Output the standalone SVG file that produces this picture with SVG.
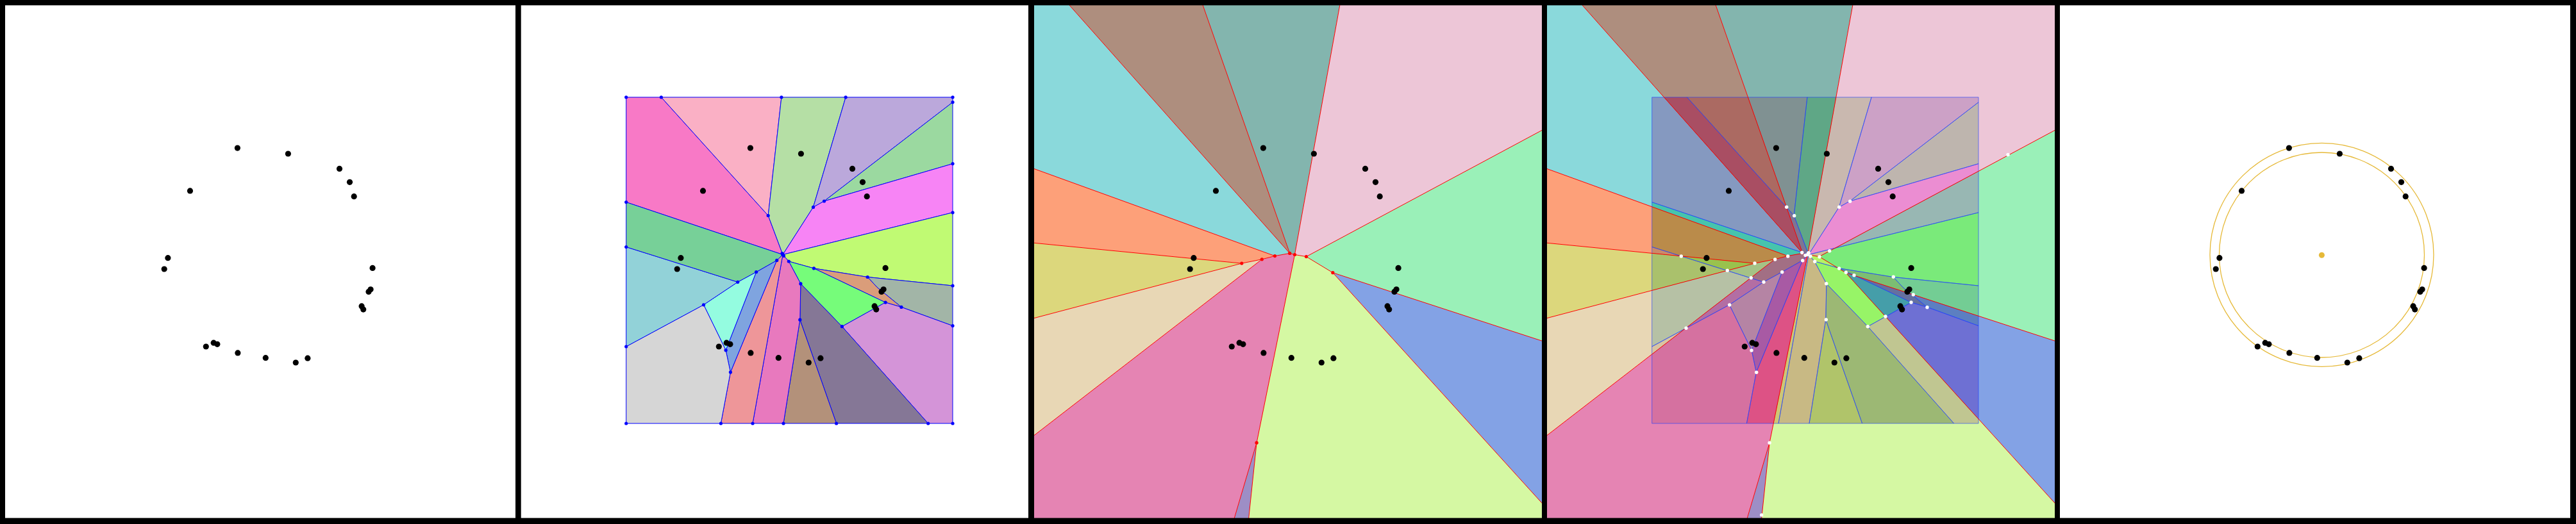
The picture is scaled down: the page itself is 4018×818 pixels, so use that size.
<svg xmlns="http://www.w3.org/2000/svg" xmlns:xlink="http://www.w3.org/1999/xlink" width="4018" height="818" viewBox="0 0 4018 818">
<style>
.site{fill:#000}
.red{stroke:#ff0000;stroke-width:1;fill:none}
.bdot{fill:#0000ff}
.rdot{fill:#ff0000}
.wdot{fill:#ffffff}
.gold{fill:none;stroke:#e6b938;stroke-width:1.3}
</style>
<defs>
<clipPath id="pclip"><rect x="5" y="0" width="806" height="818"/></clipPath>
<g id="sites">
<circle class="site" cx="370.4" cy="231.1" r="4.6"/>
<circle class="site" cx="449.4" cy="240.0" r="4.6"/>
<circle class="site" cx="529.5" cy="263.4" r="4.6"/>
<circle class="site" cx="545.5" cy="284.3" r="4.6"/>
<circle class="site" cx="552.2" cy="306.7" r="4.6"/>
<circle class="site" cx="296.5" cy="297.9" r="4.6"/>
<circle class="site" cx="261.9" cy="402.7" r="4.6"/>
<circle class="site" cx="256.2" cy="420.0" r="4.6"/>
<circle class="site" cx="581.1" cy="418.4" r="4.6"/>
<circle class="site" cx="578.1" cy="451.8" r="4.6"/>
<circle class="site" cx="575.0" cy="455.4" r="4.6"/>
<circle class="site" cx="564.1" cy="477.9" r="4.6"/>
<circle class="site" cx="566.7" cy="483.1" r="4.6"/>
<circle class="site" cx="321.3" cy="541.0" r="4.6"/>
<circle class="site" cx="333.2" cy="535.2" r="4.6"/>
<circle class="site" cx="338.9" cy="537.3" r="4.6"/>
<circle class="site" cx="370.9" cy="550.9" r="4.6"/>
<circle class="site" cx="414.3" cy="558.7" r="4.6"/>
<circle class="site" cx="461.3" cy="566.0" r="4.6"/>
<circle class="site" cx="479.9" cy="559.2" r="4.6"/>
</g>
<polygon id="c6" points="176.7,151.8 231.4,151.8 398.2,336.5 421,397.5 176.7,315.6"/>
<polygon id="c1" points="231.4,151.8 418.9,151.8 398.2,336.5"/>
<polygon id="c2" points="418.9,151.8 519.1,151.8 468.5,323.4 421,397.5 398.2,336.5"/>
<polygon id="c3" points="519.1,151.8 686,151.8 686,159.6 485.5,314 468.5,323.4"/>
<polygon id="c4" points="686,159.6 686,255.6 485.5,314"/>
<polygon id="c5" points="485.5,314 686,255.6 686,331.8 421,397.5 468.5,323.4"/>
<polygon id="c9" points="421,397.5 686,331.8 686,446 553.2,432.5 469.5,418.9 430.3,408"/>
<polygon id="c10" points="553.2,432.5 686,446 686,508.6 605.9,479.4 568.2,448.6"/>
<polygon id="c11" points="469.5,418.9 553.2,432.5 568.2,448.6 605.9,479.4 581.1,472.1"/>
<polygon id="c12" points="430.3,408 469.5,418.9 581.1,472.1 513.4,509.7 448.9,442.9"/>
<polygon id="c13" points="581.1,472.1 605.9,479.4 686,508.6 686,661 647.7,661 513.4,509.7"/>
<polygon id="c20" points="448.9,442.9 513.4,509.7 647.7,661 504.6,661 447.8,499.2"/>
<polygon id="c19" points="447.8,499.2 504.6,661 422,661"/>
<polygon id="c18" points="421,397.5 430.3,408 448.9,442.9 447.8,499.2 422,661 374,661"/>
<polygon id="c17" points="411.7,406.4 421,397.5 374,661 324.4,661 339.4,581.1"/>
<polygon id="c16" points="379.6,424.6 411.7,406.4 339.4,581.1 332.1,546.7"/>
<polygon id="c15" points="350.7,440.3 379.6,424.6 332.1,546.7 297.5,475.8"/>
<polygon id="c14" points="297.5,475.8 332.1,546.7 339.4,581.1 324.4,661 176.7,661 176.7,541"/>
<polygon id="c8" points="176.7,385.5 350.7,440.3 297.5,475.8 176.7,541"/>
<polygon id="c7" points="176.7,315.6 421,397.5 411.7,406.4 379.6,424.6 350.7,440.3 176.7,385.5"/>
<g id="vor3cells">
<polygon fill="#8AD9DB" points="-30,-30 34.4,-29.8 411.7,395.4 388.5,399.6 -24.7,249.8"/>
<polygon fill="#AE8E7E" points="34.4,-29.8 262.9,-29.8 411.7,395.4"/>
<polygon fill="#83B5AE" points="262.9,-29.8 496.7,-30 419.5,397.5 411.7,395.4"/>
<polygon fill="#EDC6D7" points="496.7,-30 845,-30 841.5,183.8 437.5,400.6 419.5,397.5"/>
<polygon fill="#9AF0B8" points="841.5,183.8 845,360 837.4,542.7 478.9,425.7 437.5,400.6"/>
<polygon fill="#83A2E5" points="837.4,542.7 845,700 837.4,821 478.9,425.7"/>
<polygon fill="#D5F8A3" points="419.5,397.5 437.5,400.6 478.9,425.7 837.4,821 845,845 343.9,845 360.1,691.2"/>
<polygon fill="#9D8EC6" points="360.1,691.2 343.9,845 314.6,845"/>
<polygon fill="#E584B3" points="368.3,404.8 388.5,399.6 411.7,395.4 419.5,397.5 360.1,691.2 314.6,845 -30,845 -22.6,707.2"/>
<polygon fill="#E8D7B5" points="-19.5,505.2 336.8,411.1 368.3,404.8 -22.6,707.2"/>
<polygon fill="#DCD77C" points="-19.5,376.1 336.8,411.1 -19.5,505.2"/>
<polygon fill="#FDA079" points="-24.7,249.8 388.5,399.6 368.3,404.8 336.8,411.1 -19.5,376.1"/>
</g>
<path id="vor3lines" class="red" d="M411.7,395.4 L34.4,-29.8 M411.7,395.4 L262.9,-29.8 M419.5,397.5 L496.7,-30 M437.5,400.6 L841.5,183.8 M478.9,425.7 L837.4,542.7 M478.9,425.7 L837.4,821 M388.5,399.6 L-24.7,249.8 M336.8,411.1 L-19.5,376.1 M336.8,411.1 L-19.5,505.2 M368.3,404.8 L-22.6,707.2 M360.1,691.2 L321.9,820.3 M360.1,691.2 L346.5,820.3 M419.5,397.5 L360.1,691.2 M336.8,411.1 L368.3,404.8 L388.5,399.6 L411.7,395.4 L419.5,397.5 L437.5,400.6 L478.9,425.7"/>
<g id="cellgeom">
<use xlink:href="#c6"/><use xlink:href="#c1"/><use xlink:href="#c2"/><use xlink:href="#c3"/><use xlink:href="#c4"/>
<use xlink:href="#c5"/><use xlink:href="#c9"/><use xlink:href="#c10"/><use xlink:href="#c11"/><use xlink:href="#c12"/>
<use xlink:href="#c13"/><use xlink:href="#c20"/><use xlink:href="#c19"/><use xlink:href="#c18"/><use xlink:href="#c17"/>
<use xlink:href="#c16"/><use xlink:href="#c15"/><use xlink:href="#c14"/><use xlink:href="#c8"/><use xlink:href="#c7"/>
</g>
</defs>

<rect x="0" y="0" width="4018" height="818" fill="#ffffff"/>

<g id="panel1">
<use xlink:href="#sites"/>
</g>

<g id="panel2" transform="translate(800,0)">
<g id="p2cells" stroke="#0000ff" stroke-width="1" stroke-linejoin="round">
<use xlink:href="#c6" fill="#F879C6"/>
<use xlink:href="#c1" fill="#FAB0C5"/>
<use xlink:href="#c2" fill="#B5DFA5"/>
<use xlink:href="#c3" fill="#BBA8DB"/>
<use xlink:href="#c4" fill="#9BD9A0"/>
<use xlink:href="#c5" fill="#F784F5"/>
<use xlink:href="#c9" fill="#C0FA73"/>
<use xlink:href="#c10" fill="#A2B5A7"/>
<use xlink:href="#c11" fill="#DA9D7A"/>
<use xlink:href="#c12" fill="#76FC7A"/>
<use xlink:href="#c13" fill="#D494D8"/>
<use xlink:href="#c20" fill="#857796"/>
<use xlink:href="#c19" fill="#B3917A"/>
<use xlink:href="#c18" fill="#E879BE"/>
<use xlink:href="#c17" fill="#EE9699"/>
<use xlink:href="#c16" fill="#7FA4DF"/>
<use xlink:href="#c15" fill="#94FCE0"/>
<use xlink:href="#c14" fill="#D6D6D6"/>
<use xlink:href="#c8" fill="#92D2D8"/>
<use xlink:href="#c7" fill="#77D098"/>
</g>
<g id="p2verts" class="bdot">
<circle cx="176.7" cy="151.8" r="2.6"/><circle cx="686" cy="151.8" r="2.6"/><circle cx="176.7" cy="661" r="2.6"/><circle cx="686" cy="661" r="2.6"/>
<circle cx="231.4" cy="151.8" r="2.6"/><circle cx="418.9" cy="151.8" r="2.6"/><circle cx="519.1" cy="151.8" r="2.6"/>
<circle cx="686" cy="159.6" r="2.6"/><circle cx="686" cy="255.6" r="2.6"/><circle cx="686" cy="331.8" r="2.6"/><circle cx="686" cy="446" r="2.6"/><circle cx="686" cy="508.6" r="2.6"/>
<circle cx="647.7" cy="661" r="2.6"/><circle cx="504.6" cy="661" r="2.6"/><circle cx="422" cy="661" r="2.6"/><circle cx="374" cy="661" r="2.6"/><circle cx="324.4" cy="661" r="2.6"/>
<circle cx="176.7" cy="315.6" r="2.6"/><circle cx="176.7" cy="385.5" r="2.6"/><circle cx="176.7" cy="541" r="2.6"/>
<circle cx="398.2" cy="336.5" r="2.6"/><circle cx="468.5" cy="323.4" r="2.6"/><circle cx="485.5" cy="314" r="2.6"/>
<circle cx="421" cy="397.5" r="2.8"/><circle cx="420" cy="395.5" r="2.6"/><circle cx="422.5" cy="399.5" r="2.6"/>
<circle cx="411.7" cy="406.4" r="2.6"/><circle cx="430.3" cy="408" r="2.6"/><circle cx="379.6" cy="424.6" r="2.6"/>
<circle cx="350.7" cy="440.3" r="2.6"/><circle cx="297.5" cy="475.8" r="2.6"/><circle cx="332.1" cy="546.7" r="2.6"/><circle cx="339.4" cy="581.1" r="2.6"/>
<circle cx="469.5" cy="418.9" r="2.6"/><circle cx="448.9" cy="442.9" r="2.6"/><circle cx="447.8" cy="499.2" r="2.6"/>
<circle cx="553.2" cy="432.5" r="2.6"/><circle cx="581.1" cy="472.1" r="2.6"/><circle cx="605.9" cy="479.4" r="2.6"/><circle cx="513.4" cy="509.7" r="2.6"/>
</g>
<use xlink:href="#sites"/>
</g>

<g id="panel3" transform="translate(1600,0)">
<g clip-path="url(#pclip)">
<use xlink:href="#vor3cells"/>
<use xlink:href="#vor3lines"/>
<g id="p3verts" class="rdot">
<circle cx="336.8" cy="411.1" r="2.6"/><circle cx="368.3" cy="404.8" r="2.6"/><circle cx="388.5" cy="399.6" r="2.6"/>
<circle cx="411.7" cy="395.4" r="2.6"/><circle cx="419.5" cy="397.5" r="2.6"/><circle cx="437.5" cy="400.6" r="2.6"/>
<circle cx="478.9" cy="425.7" r="2.6"/><circle cx="360.1" cy="691.2" r="2.6"/>
</g>
<use xlink:href="#sites"/>
</g>
</g>

<g id="panel4" transform="translate(2400,0)">
<g clip-path="url(#pclip)">
<use xlink:href="#vor3cells"/>
<g id="overlay" style="mix-blend-mode:difference">
<use xlink:href="#c6" fill="rgb(5,64,27)"/>
<use xlink:href="#c1" fill="rgb(3,36,28)"/>
<use xlink:href="#c2" fill="rgb(36,14,40)"/>
<use xlink:href="#c3" fill="rgb(33,37,17)"/>
<use xlink:href="#c4" fill="rgb(47,17,41)"/>
<use xlink:href="#c5" fill="rgb(2,57,5)"/>
<use xlink:href="#c9" fill="rgb(32,6,62)"/>
<use xlink:href="#c10" fill="rgb(39,35,36)"/>
<use xlink:href="#c11" fill="rgb(30,50,70)"/>
<use xlink:href="#c12" fill="rgb(62,4,60)"/>
<use xlink:href="#c13" fill="rgb(21,50,18)"/>
<use xlink:href="#c20" fill="rgb(57,64,47)"/>
<use xlink:href="#c19" fill="rgb(37,52,57)"/>
<use xlink:href="#c18" fill="rgb(13,63,31)"/>
<use xlink:href="#c17" fill="rgb(8,50,46)"/>
<use xlink:href="#c16" fill="rgb(61,42,15)"/>
<use xlink:href="#c15" fill="rgb(48,0,15)"/>
<use xlink:href="#c14" fill="rgb(16,19,19)"/>
<use xlink:href="#c8" fill="rgb(50,22,16)"/>
<use xlink:href="#c7" fill="rgb(67,21,47)"/>
</g>
<g id="p4edges" fill="none" stroke="#1a3cff" stroke-opacity="0.6" stroke-width="1">
<use xlink:href="#cellgeom"/>
</g>
<use xlink:href="#vor3lines"/>
<g id="p4verts" class="wdot">
<circle cx="386.7" cy="323.3" r="2.7"/><circle cx="398.7" cy="336.7" r="2.7"/><circle cx="468.7" cy="323.3" r="2.7"/><circle cx="485.7" cy="314.3" r="2.7"/>
<circle cx="453.7" cy="391.7" r="2.7"/><circle cx="438" cy="401" r="2.7"/><circle cx="430.7" cy="408.3" r="2.7"/><circle cx="411.7" cy="406.7" r="2.7"/>
<circle cx="410.7" cy="394.3" r="2.7"/><circle cx="419.5" cy="397.5" r="2.7"/><circle cx="421" cy="395" r="2.9"/><circle cx="424" cy="400" r="2.7"/><circle cx="416" cy="398.5" r="2.7"/>
<circle cx="388.7" cy="400" r="2.7"/><circle cx="368.7" cy="405" r="2.7"/><circle cx="337" cy="411" r="2.7"/>
<circle cx="222.3" cy="400" r="2.7"/><circle cx="294.3" cy="422.3" r="2.7"/><circle cx="331.3" cy="433.7" r="2.7"/><circle cx="351" cy="440.3" r="2.7"/>
<circle cx="379.7" cy="424.7" r="2.7"/><circle cx="297.7" cy="476" r="2.7"/><circle cx="230" cy="512.3" r="2.7"/><circle cx="332" cy="547" r="2.7"/>
<circle cx="339.7" cy="581.3" r="2.7"/><circle cx="448.7" cy="442.7" r="2.7"/><circle cx="448.3" cy="499" r="2.7"/><circle cx="468.7" cy="419" r="2.7"/>
<circle cx="479.3" cy="425.3" r="2.7"/><circle cx="492" cy="429.7" r="2.7"/><circle cx="553.3" cy="432.3" r="2.7"/><circle cx="584.3" cy="460" r="2.7"/>
<circle cx="581" cy="472" r="2.7"/><circle cx="606" cy="479.7" r="2.7"/><circle cx="541" cy="494" r="2.7"/><circle cx="513.3" cy="509.7" r="2.7"/>
<circle cx="732" cy="241.5" r="2.7"/><circle cx="360.1" cy="691.2" r="2.7"/><circle cx="347.7" cy="803.9" r="2.7"/>
</g>
<use xlink:href="#sites"/>
</g>
</g>

<g id="panel5" transform="translate(3200,0)">
<circle class="gold" cx="421.5" cy="397.8" r="174.5"/>
<circle class="gold" cx="421.5" cy="398" r="160"/>
<circle cx="421.4" cy="398.2" r="4.5" fill="#e6b938"/>
<use xlink:href="#sites"/>
</g>

<g id="frames" fill="#000000">
<rect x="0" y="0" width="4018" height="8.3"/>
<rect x="0" y="808.6" width="4018" height="9.4"/>
<rect x="0" y="0" width="8" height="818"/>
<rect x="804" y="0" width="8.7" height="818"/>
<rect x="1604" y="0" width="9" height="818"/>
<rect x="2405" y="0" width="8" height="818"/>
<rect x="3205" y="0" width="8" height="818"/>
<rect x="4009" y="0" width="9" height="818"/>
</g>
</svg>
